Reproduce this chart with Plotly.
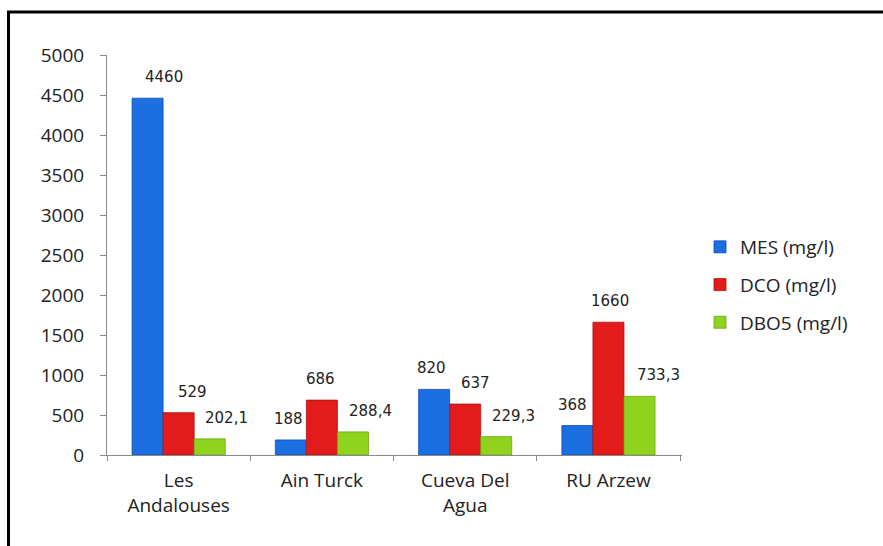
import plotly.graph_objects as go

# Wastewater quality by treatment site
sites = ["Les<br>Andalouses", "Ain Turck", "Cueva Del<br>Agua", "RU Arzew"]
series_names = ["MES (mg/l)", "DCO (mg/l)", "DBO5 (mg/l)"]
mes = [4460, 188, 820, 368]
dco = [529, 686, 637, 1660]
dbo5 = [202.1, 288.4, 229.3, 733.3]
value_labels = [
    ["4460", "188", "820", "368"],
    ["529", "686", "637", "1660"],
    ["202,1", "288,4", "229,3", "733,3"],
]
y_ticks = [0, 500, 1000, 1500, 2000, 2500, 3000, 3500, 4000, 4500, 5000]

colors = ["#1b6fe0", "#e31b1b", "#8fd31f"]
edges = ["#0d4fb0", "#b01010", "#6aa814"]
# horizontal nudges (px) of each value label relative to its bar centre
label_dx = [
    [16, -2, -3, -5],
    [14, -1, 10, 2],
    [17, 18, 17, 19],
]

BARGAP = 0.35
fig = go.Figure()
all_series = [mes, dco, dbo5]
for k, (name, vals) in enumerate(zip(series_names, all_series)):
    fig.add_trace(go.Bar(
        name=name, x=sites, y=vals,
        marker=dict(color=colors[k], line=dict(color=edges[k], width=0.8)),
        legendgroup=name,
    ))

bar_w = (1 - BARGAP) / 3
for k, vals in enumerate(all_series):
    for i, v in enumerate(vals):
        fig.add_annotation(
            x=i + (k - 1) * bar_w, y=v, xref="x", yref="y",
            text=value_labels[k][i], showarrow=False,
            yanchor="bottom", yshift=10, xshift=label_dx[k][i],
            font=dict(family="DejaVu Sans", size=15, color="#222222"),
        )

# frame lines along the top and left of the figure
px_x = lambda p: (p - 107) / 575
px_y = lambda p: (455 - p) / 400
fig.add_shape(type="line", xref="paper", yref="paper",
              x0=px_x(7), x1=px_x(900), y0=px_y(12), y1=px_y(12),
              line=dict(color="black", width=3))
fig.add_shape(type="line", xref="paper", yref="paper",
              x0=px_x(8.5), x1=px_x(8.5), y0=px_y(11), y1=px_y(560),
              line=dict(color="black", width=3))

fig.update_layout(
    width=883, height=546,
    margin=dict(l=107, r=201, t=55, b=91),
    paper_bgcolor="white", plot_bgcolor="white",
    barmode="group", bargap=BARGAP, bargroupgap=0,
    font=dict(family="Open Sans", color="#222222"),
    legend=dict(
        x=px_x(700), y=px_y(228), xanchor="left", yanchor="top",
        font=dict(family="Open Sans", size=19, color="#222222"),
        tracegroupgap=10, itemwidth=30,
    ),
    showlegend=True,
)
fig.update_yaxes(
    range=[0, 5000], tickvals=y_ticks, showgrid=False, zeroline=False,
    showline=True, linecolor="#8a8a8a", linewidth=1,
    ticks="outside", ticklen=6, tickcolor="#8a8a8a",
    tickfont=dict(family="Open Sans", size=19, color="#222222"),
    ticklabelstandoff=12,
)
fig.update_xaxes(
    showgrid=False, showline=True, linecolor="#8a8a8a", linewidth=1,
    ticks="outside", ticklen=5, tickcolor="#8a8a8a", tickson="boundaries",
    tickfont=dict(family="Open Sans", size=19, color="#222222"),
    ticklabelstandoff=8,
)

fig.write_html("out.html")
